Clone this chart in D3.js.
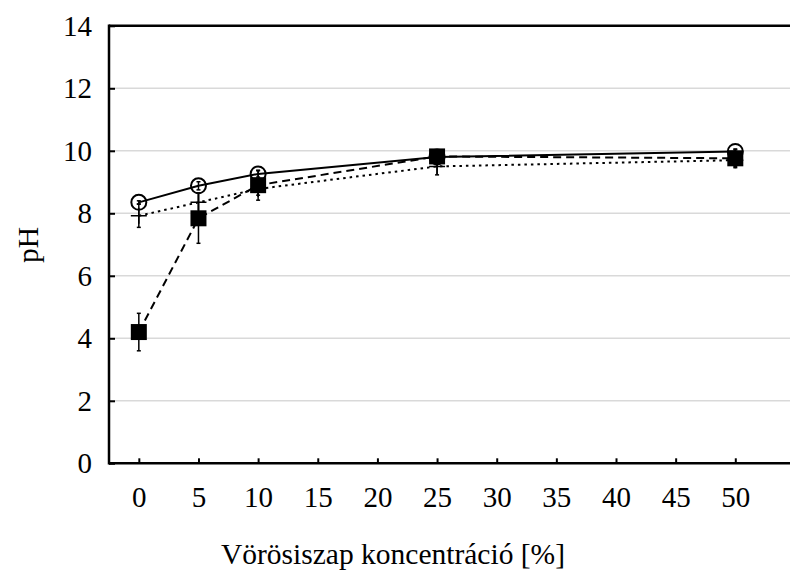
<html>
<head>
  <title>pH</title>
  <script src="https://d3js.org/d3.v7.min.js"></script>
  <style>
  body { margin: 0; background: white; }
  text { font-family: "Liberation Serif", "Times New Roman", serif; fill: black; }
  .grid { stroke: #d9d9d9; stroke-width: 1.5px; }
  .frame { stroke: black; stroke-width: 2.5px; fill: none; }
  </style>
</head>
<body>
  <svg id="chart" width="790" height="572"></svg>
  <script>
    // koncentráció [%]
    const conc = [0, 5, 10, 25, 50];
    const xTicks = [0, 5, 10, 15, 20, 25, 30, 35, 40, 45, 50];
    const yTicks = [0, 2, 4, 6, 8, 10, 12, 14];

    // open circles, solid line
    const phA = [8.35, 8.88, 9.26, 9.80, 9.98];
    const errA = [0.05, 0.13, 0.1, 0.05, 0.05];
    // filled squares, dashed line
    const phB = [4.2, 7.84, 8.9, 9.82, 9.76];
    const errB = [0.6, 0.8, 0.48, 0.1, 0.3];
    // crosses, dotted line
    const phC = [7.92, 8.35, 8.78, 9.5, 9.7];
    const errC = [0.37, 0.3, 0.2, 0.27, 0.2];

    const svg = d3.select("#chart");
    const x = d3.scaleLinear().domain([-2.5, 50]).range([109, 735.3]);
    const y = d3.scaleLinear().domain([0, 14]).range([463.3, 25.8]);
    const right = x(57.5);

    // grid
    svg.append("g").selectAll("line").data(yTicks.filter(d => d > 0 && d < 14)).enter()
      .append("line").attr("class", "grid")
      .attr("x1", x(-2.5)).attr("x2", right)
      .attr("y1", d => y(d)).attr("y2", d => y(d));

    // axes
    const xAxis = svg.append("g").attr("transform", "translate(0," + y(0) + ")")
      .call(d3.axisBottom(x).tickValues(xTicks).tickSize(-5).tickPadding(23));
    const yAxis = svg.append("g").attr("transform", "translate(" + x(-2.5) + ",0)")
      .call(d3.axisLeft(y).tickValues(yTicks).tickSize(-6).tickPadding(17));
    [xAxis, yAxis].forEach(a => {
      a.select(".domain").remove();
      a.selectAll(".tick line").attr("stroke", "black").attr("stroke-width", 2);
      a.selectAll("text").style("font-size", "29px").attr("font-family", null);
    });

    svg.append("line").attr("class", "frame")
      .attr("x1", x(-2.5)).attr("x2", right).attr("y1", y(0)).attr("y2", y(0));
    svg.append("line").attr("class", "frame")
      .attr("x1", x(-2.5)).attr("x2", right).attr("y1", y(14)).attr("y2", y(14));
    svg.append("line").attr("class", "frame")
      .attr("x1", x(-2.5)).attr("x2", x(-2.5)).attr("y1", y(14) - 1.2).attr("y2", y(0) + 1.2);

    // titles
    svg.append("text").attr("x", 393).attr("y", 564).attr("text-anchor", "middle")
      .style("font-size", "29.5px").text("Vörösiszap koncentráció [%]");
    svg.append("text").attr("transform", "translate(38,245) rotate(-90)")
      .attr("text-anchor", "middle").style("font-size", "29.5px").text("pH");

    const series = [
      { vals: phB, err: errB, dash: "8,5", marker: "square" },
      { vals: phC, err: errC, dash: "2.5,4", marker: "cross" },
      { vals: phA, err: errA, dash: null, marker: "circle" }
    ];

    // lines
    series.forEach(s => {
      const line = d3.line().x((d, i) => x(conc[i])).y(d => y(d));
      svg.append("path").datum(s.vals)
        .attr("d", line).attr("fill", "none").attr("stroke", "black")
        .attr("stroke-width", 2).attr("stroke-dasharray", s.dash);
    });

    // error bars + markers
    series.forEach(s => {
      const g = svg.append("g");
      s.vals.forEach((v, i) => {
        const cx = x(conc[i]);
        const lo = y(v - s.err[i]), hi = y(v + s.err[i]);
        g.append("line").attr("x1", cx).attr("x2", cx).attr("y1", lo).attr("y2", hi)
          .attr("stroke", "black").attr("stroke-width", 1.5);
        [lo, hi].forEach(yy => g.append("line").attr("x1", cx - 2).attr("x2", cx + 2)
          .attr("y1", yy).attr("y2", yy).attr("stroke", "black").attr("stroke-width", 1.5));
        if (s.marker === "square") {
          g.append("rect").attr("x", cx - 8).attr("y", y(v) - 8)
            .attr("width", 16).attr("height", 16).attr("fill", "black");
        } else if (s.marker === "circle") {
          g.append("circle").attr("cx", cx).attr("cy", y(v)).attr("r", 7.5)
            .attr("fill", "none").attr("stroke", "black").attr("stroke-width", 2);
        } else {
          g.append("path").attr("d", "M" + (cx - 8) + "," + y(v) + "H" + (cx + 8)
            + "M" + cx + "," + (y(v) - 8) + "V" + (y(v) + 8))
            .attr("stroke", "black").attr("stroke-width", 1.5);
        }
      });
    });
  </script>
</body>
</html>
